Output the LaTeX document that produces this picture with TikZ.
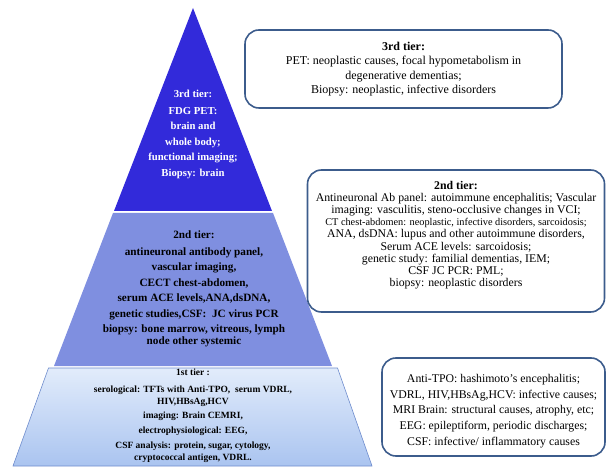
\documentclass[tikz,border=0pt]{standalone}
\usepackage{fontspec}
\setmainfont{Liberation Serif}
\definecolor{tierthree}{RGB}{50,42,218}
\definecolor{tiertwo}{RGB}{127,143,224}
\definecolor{tieronetop}{RGB}{226,236,251}
\definecolor{tieronebot}{RGB}{170,196,240}
\definecolor{tieroneline}{RGB}{110,140,205}
\definecolor{boxline}{RGB}{60,92,140}
\begin{document}
\begin{tikzpicture}[x=1pt,y=1pt,
  pyrtext/.style={align=center,font=\bfseries\fontsize{10.7}{12}\selectfont},
  infobox/.style={draw=boxline,line width=1.6pt,rounded corners=14pt,align=center,inner sep=0pt},
  boxtext/.style={align=center,font=\fontsize{12}{14.3}\selectfont}]
\useasboundingbox (0,0) rectangle (609,468);
% pyramid
\fill[tierthree] (193,460) -- (272,257) -- (114,257) -- cycle;
\fill[tiertwo] (113,255) -- (273,255) -- (332,102) -- (54,102) -- cycle;
\shade[top color=tieronetop,bottom color=tieronebot] (48.5,100) -- (337.5,100) -- (372,2) -- (13,2) -- cycle;
\draw[tieroneline,line width=0.6pt] (48.5,100) -- (337.5,100) -- (372,2) -- (13,2) -- cycle;
% pyramid texts
\node[pyrtext,text=white] (t3) at (193,334) {3rd tier:\\[5pt]FDG PET:\\[3.5pt]brain and\\[3.5pt]whole body;\\[3.5pt]functional imaging;\\[3.5pt]Biopsy: brain};
\node[pyrtext,font=\bfseries\fontsize{11.2}{12}\selectfont] (t2) at (194,179) {2nd tier:\\[5pt]antineuronal antibody panel,\\[3.5pt]vascular imaging,\\[3.5pt]CECT chest-abdomen,\\[3.5pt]serum ACE levels,ANA,dsDNA,\\[3.5pt]genetic studies,CSF:\ \ JC virus PCR\\[3.5pt]biopsy: bone marrow, vitreous, lymph\\node other systemic};
\node[pyrtext,font=\bfseries\fontsize{9.5}{12}\selectfont] (t1) at (193,52) {1st tier :\\[4.5pt]serological: TFTs with Anti-TPO,\ \ serum VDRL,\\HIV,HBsAg,HCV\\[2.5pt]imaging: Brain CEMRI,\\[3pt]electrophysiological: EEG,\\[3pt]CSF analysis: protein, sugar, cytology,\\cryptococcal antigen, VDRL.};
% boxes
\node[infobox,minimum width=317pt,minimum height=78pt] (b3) at (403.5,399) {};
\node[boxtext] (b3t) at (b3.center) {\textbf{3rd tier:}\\PET: neoplastic causes, focal hypometabolism in\\degenerative dementias;\\Biopsy: neoplastic, infective disorders};
\node[infobox,minimum width=297pt,minimum height=142pt] (b2) at (456,227) {};
\node[boxtext,font=\fontsize{11.8}{12.2}\selectfont] (b2t) at ([yshift=6pt]b2.center) {\textbf{2nd tier:}\\Antineuronal Ab panel: autoimmune encephalitis; Vascular\\imaging: vasculitis, steno-occlusive changes in VCI;\\{\fontsize{10.3}{12.2}\selectfont CT chest-abdomen: neoplastic, infective disorders, sarcoidosis;}\\ANA, dsDNA: lupus and other autoimmune disorders,\\Serum ACE levels: sarcoidosis;\\genetic study: familial dementias, IEM;\\CSF JC PCR: PML;\\biopsy: neoplastic disorders};
\node[infobox,minimum width=223pt,minimum height=98pt] (b1) at (493.5,61) {};
\node[boxtext,font=\fontsize{11.8}{15.8}\selectfont] (b1t) at ([yshift=-4pt]b1.center) {Anti-TPO: hashimoto’s encephalitis;\\VDRL, HIV,HBsAg,HCV: infective causes;\\MRI Brain: structural causes, atrophy, etc;\\EEG: epileptiform, periodic discharges;\\CSF: infective/ inflammatory causes};
\end{tikzpicture}
\end{document}
